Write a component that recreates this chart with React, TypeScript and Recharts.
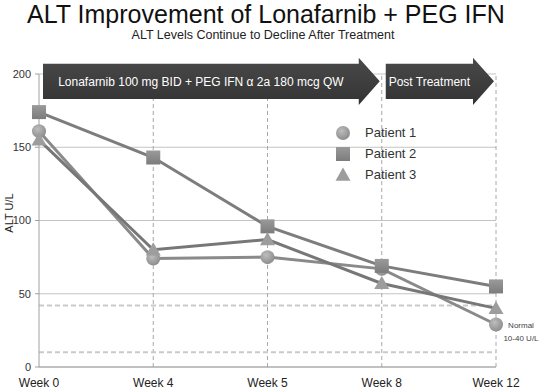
import React from 'react'
import {
  LineChart,
  Line,
  XAxis,
  YAxis,
  CartesianGrid,
  ReferenceLine,
  ReferenceArea,
  Legend,
} from 'recharts'

const weeks = ['Week 0', 'Week 4', 'Week 5', 'Week 8', 'Week 12']
const patient1 = [161, 74, 75, 67, 29]
const patient2 = [174, 143, 96, 69, 55]
const patient3 = [155, 80, 87, 57, 40]
const yTicks = [0, 50, 100, 150, 200]
const normalRange = [10, 42]
const dashedWeeks = ['Week 4', 'Week 5', 'Week 8', 'Week 12']
const phases = [
  { from: 'Week 0', to: 'Week 8', label: 'Lonafarnib 100 mg BID + PEG IFN α 2a 180 mcg QW' },
  { from: 'Week 8', to: 'Week 12', label: 'Post Treatment' },
]
const arrowBand = [183, 207]

const FONT = '"Liberation Sans", Arial, sans-serif'

const data = weeks.map((w, i) => ({
  week: w,
  p1: patient1[i],
  p2: patient2[i],
  p3: patient3[i],
}))

function CircleMark({ cx, cy }: { cx: number; cy: number }) {
  return <circle cx={cx} cy={cy} r={7} fill="url(#circGrad)" />
}

function SquareMark({ cx, cy }: { cx: number; cy: number }) {
  return <rect x={cx - 7} y={cy - 7} width={14} height={14} fill="url(#sqGrad)" />
}

function TriangleMark({ cx, cy }: { cx: number; cy: number }) {
  const s = 7.5
  return (
    <polygon
      points={`${cx},${cy - s} ${cx + s},${cy + s * 0.75} ${cx - s},${cy + s * 0.75}`}
      fill="#9d9d9d"
    />
  )
}

const marks: Record<string, any> = { p1: CircleMark, p2: SquareMark, p3: TriangleMark }

const dotFor = (key: string) => (p: any) => {
  const Mark = marks[key]
  if (p.cx == null || p.cy == null) return <g key={`${key}-${p.index}`} />
  return <Mark key={`${key}-${p.index}`} cx={p.cx} cy={p.cy} />
}

const makeArrow = (text: string) => (props: any) => {
  const { x, y, width, height } = props
  const left = x + 4
  const tip = x + width - 2
  const neck = tip - 21
  const top = y
  const bottom = y + height
  const mid = y + height / 2
  const pts = `${left},${top} ${neck},${top} ${neck},${top - 6} ${tip},${mid} ${neck},${bottom + 6} ${neck},${bottom} ${left},${bottom}`
  return (
    <g>
      <polygon points={pts} fill="url(#arrowGrad)" />
      <text
        x={(left + neck) / 2}
        y={mid + 1}
        fill="#ffffff"
        fontSize={12}
        fontFamily={FONT}
        textAnchor="middle"
        dominantBaseline="central"
      >
        {text}
      </text>
    </g>
  )
}

function LegendBox({ payload }: any) {
  return (
    <div style={{ fontFamily: FONT, fontSize: 13, color: '#333' }}>
      {(payload || []).map((e: any) => {
        const Mark = marks[e.dataKey]
        return (
          <div key={e.dataKey} style={{ display: 'flex', alignItems: 'center', height: 21 }}>
            <svg width={18} height={18} style={{ marginRight: 13 }}>
              <Mark cx={9} cy={9} />
            </svg>
            <span>{e.value}</span>
          </div>
        )
      })}
    </div>
  )
}

const normalLabel = (props: any) => {
  const vb = props.viewBox || {}
  const x = vb.x + vb.width + 25
  const y = vb.y + 23
  return (
    <text x={x} y={y} fontSize={8} fontFamily={FONT} fill="#444" textAnchor="middle">
      <tspan x={x} dy={0}>Normal</tspan>
      <tspan x={x} dy={13}>10-40 U/L</tspan>
    </text>
  )
}

export default function App() {
  return (
    <div style={{ position: 'absolute', left: 0, top: 0, width: 544, height: 389, background: '#fff' }}>
      <div
        style={{
          position: 'absolute',
          left: 0,
          top: 0,
          width: 532,
          textAlign: 'center',
          fontFamily: FONT,
          fontSize: 25,
          color: '#111',
          lineHeight: '29px',
        }}
      >
        ALT Improvement of Lonafarnib + PEG IFN
      </div>
      <div
        style={{
          position: 'absolute',
          left: 0,
          top: 29,
          width: 526,
          textAlign: 'center',
          fontFamily: FONT,
          fontSize: 12.5,
          color: '#222',
          lineHeight: '13px',
        }}
      >
        ALT Levels Continue to Decline After Treatment
      </div>
      <div
        style={{
          position: 'absolute',
          left: 9,
          top: 213,
          transform: 'translate(-50%, -50%) rotate(-90deg)',
          fontFamily: FONT,
          fontSize: 11,
          color: '#222',
          whiteSpace: 'nowrap',
        }}
      >
        ALT U/L
      </div>
      <LineChart width={544} height={389} data={data} margin={{ top: 74, right: 48, bottom: 2, left: 9 }}>
        <defs>
          <radialGradient id="circGrad" cx="40%" cy="35%" r="70%">
            <stop offset="0%" stopColor="#bdbdbd" />
            <stop offset="100%" stopColor="#8a8a8a" />
          </radialGradient>
          <linearGradient id="sqGrad" x1="0" y1="0" x2="0" y2="1">
            <stop offset="0%" stopColor="#9a9a9a" />
            <stop offset="100%" stopColor="#7c7c7c" />
          </linearGradient>
          <linearGradient id="arrowGrad" x1="0" y1="0" x2="0" y2="1">
            <stop offset="0%" stopColor="#4a4a4a" />
            <stop offset="100%" stopColor="#333333" />
          </linearGradient>
        </defs>
        <CartesianGrid vertical={false} stroke="#c4c4c4" />
        <XAxis
          dataKey="week"
          tickLine={false}
          tickSize={6}
          tickMargin={5}
          height={20}
          axisLine={{ stroke: '#a0a0a0' }}
          tick={{ fontSize: 12, fill: '#222', fontFamily: FONT }}
          interval={0}
        />
        <YAxis
          width={30}
          domain={[0, 200]}
          ticks={yTicks}
          tickSize={4}
          tickMargin={4}
          axisLine={{ stroke: '#a0a0a0' }}
          tickLine={{ stroke: '#a0a0a0' }}
          tick={{ fontSize: 11, fill: '#333', fontFamily: FONT }}
        />
        {dashedWeeks.map((w) => (
          <ReferenceLine key={w} x={w} stroke="#a8a8a8" strokeDasharray="4 3" />
        ))}
        <ReferenceLine y={normalRange[0]} stroke="#cacaca" strokeWidth={2} strokeDasharray="5 3" />
        <ReferenceLine
          y={normalRange[1]}
          stroke="#cacaca"
          strokeWidth={2}
          strokeDasharray="5 3"
          label={normalLabel}
        />
        <Line
          dataKey="p1"
          name="Patient 1"
          stroke="#8a8a8a"
          strokeWidth={3}
          dot={dotFor('p1')}
          isAnimationActive={false}
        />
        <Line
          dataKey="p2"
          name="Patient 2"
          stroke="#7d7d7d"
          strokeWidth={3}
          dot={dotFor('p2')}
          isAnimationActive={false}
        />
        <Line
          dataKey="p3"
          name="Patient 3"
          stroke="#777777"
          strokeWidth={3}
          dot={dotFor('p3')}
          isAnimationActive={false}
        />
        {phases.map((ph) => (
          <ReferenceArea
            key={ph.label}
            x1={ph.from}
            x2={ph.to}
            y1={arrowBand[0]}
            y2={arrowBand[1]}
            ifOverflow="visible"
            zIndex={2000}
            shape={makeArrow(ph.label)}
          />
        ))}
        <Legend
          layout="vertical"
          verticalAlign="middle"
          align="center"
          content={LegendBox}
          wrapperStyle={{ position: 'absolute', left: 334, top: 122, width: 120 }}
        />
      </LineChart>
    </div>
  )
}
